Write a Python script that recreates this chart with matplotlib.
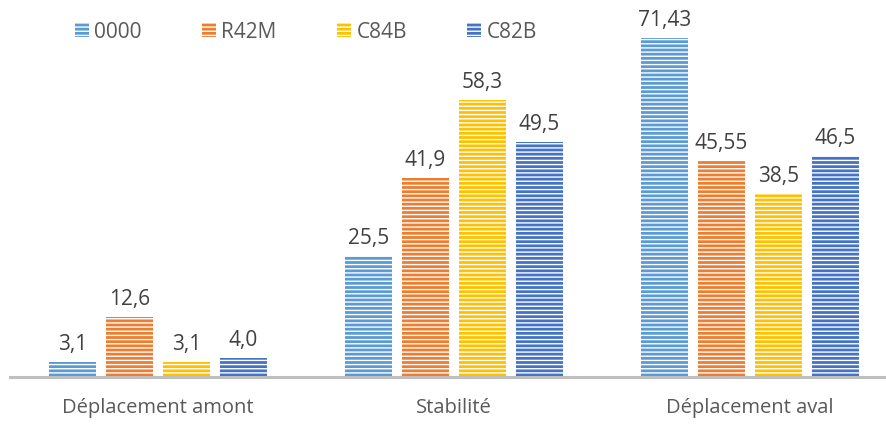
import numpy as np
import matplotlib.pyplot as plt
from matplotlib.patches import Patch

plt.rcParams['font.family'] = ['Open Sans', 'DejaVu Sans']
plt.rcParams['hatch.linewidth'] = 1.0

categories = ['Déplacement amont', 'Stabilité', 'Déplacement aval']
series = ['0000', 'R42M', 'C84B', 'C82B']
values = {
    '0000': [3.1, 25.5, 71.43],
    'R42M': [12.6, 41.9, 45.55],
    'C84B': [3.1, 58.3, 38.5],
    'C82B': [4.0, 49.5, 46.5],
}
labels = {
    '0000': ['3,1', '25,5', '71,43'],
    'R42M': ['12,6', '41,9', '45,55'],
    'C84B': ['3,1', '58,3', '38,5'],
    'C82B': ['4,0', '49,5', '46,5'],
}
colors = ['#5B9BD5', '#ED7D31', '#FFC000', '#4472C4']

fig = plt.figure(figsize=(8.86, 4.24), dpi=100)
ax = fig.add_axes([10 / 886, 47 / 424, 876 / 886, 357 / 424])

x = np.arange(len(categories))
pitch = 0.1926
width = 0.159
for j, s in enumerate(series):
    pos = x + (j - 1.5) * pitch
    bars = ax.bar(pos, values[s], width, color=colors[j], edgecolor='white',
                  linewidth=0, hatch='----', zorder=2)
    for b, lab in zip(bars, labels[s]):
        ax.annotate(lab, (b.get_x() + b.get_width() / 2, b.get_height()),
                    xytext=(0, 5), textcoords='offset points', ha='center',
                    va='bottom', fontsize=15, color='#404040')

ax.set_xlim(-0.5, -0.5 + 876 / 296)
ax.set_ylim(0, 357 / 4.746)
for sp in ['top', 'right', 'left']:
    ax.spines[sp].set_visible(False)
ax.spines['bottom'].set_color('#BFBFBF')
ax.spines['bottom'].set_linewidth(2.2)
ax.set_yticks([])
ax.set_xticks(x)
ax.set_xticklabels(categories, fontsize=14.5, color='#595959')
ax.tick_params(axis='x', length=0, pad=15)

handles = [Patch(facecolor=c, edgecolor='white', linewidth=0, hatch='----') for c in colors]
fig.legend(handles, series, loc='center', bbox_to_anchor=(306 / 886, 392 / 424), ncol=4,
           frameon=False, fontsize=15, handlelength=0.67, handleheight=0.67,
           handletextpad=0.25, columnspacing=2.9, labelcolor='#595959')

plt.savefig('out.png', dpi=100)
